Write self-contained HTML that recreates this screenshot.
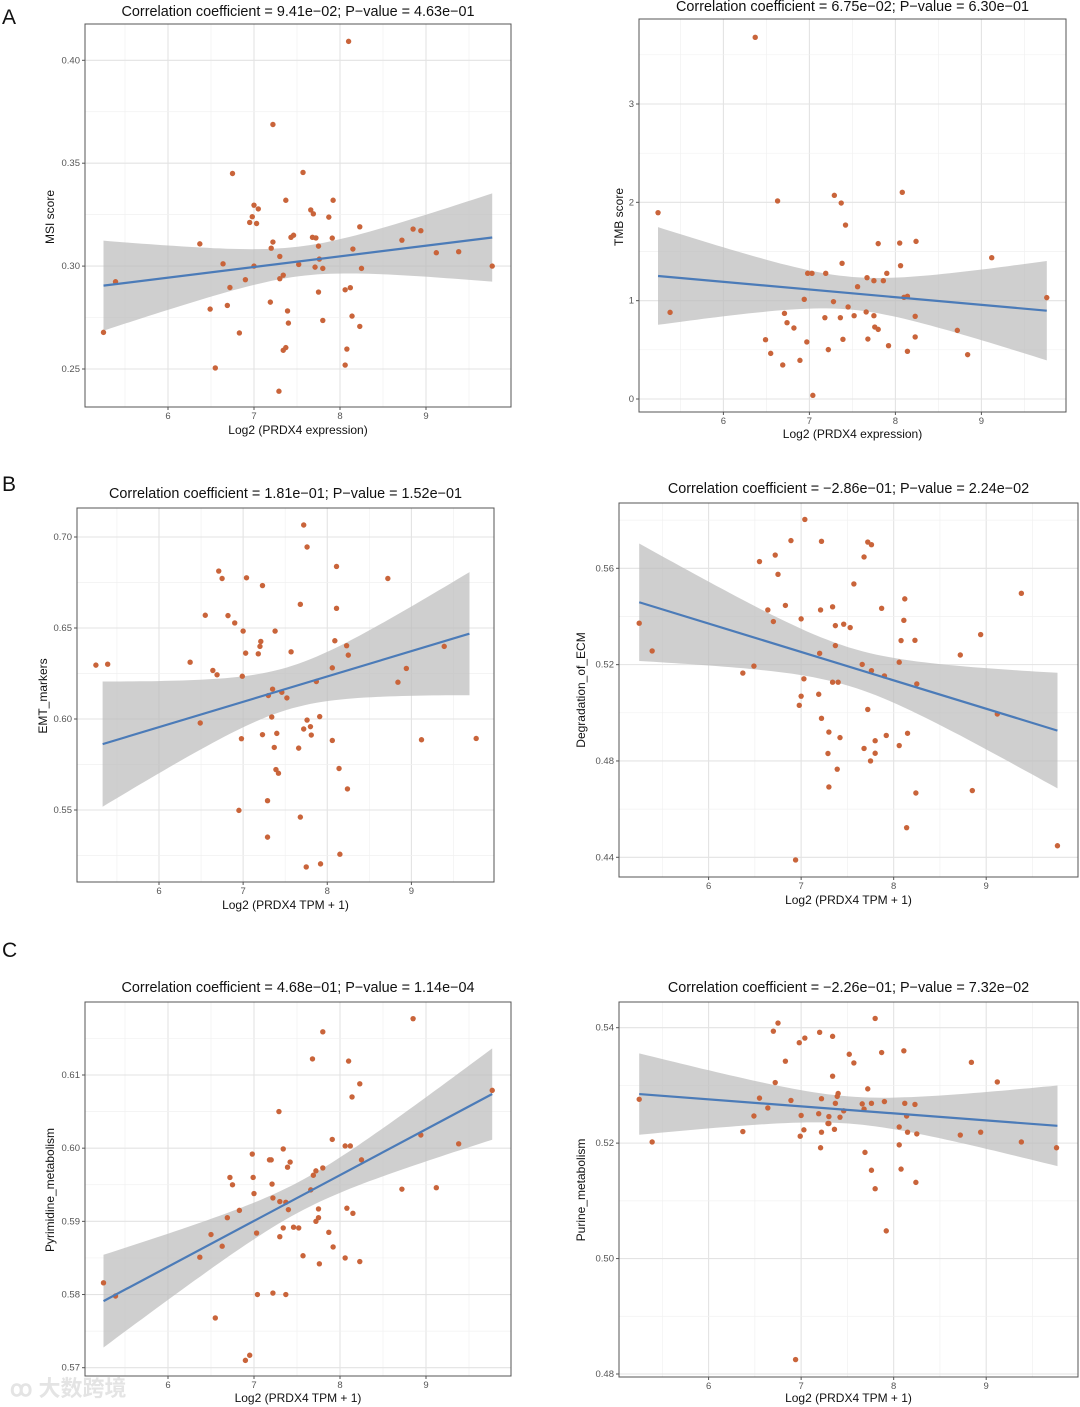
<!DOCTYPE html>
<html><head><meta charset="utf-8"><style>
html,body{margin:0;padding:0;background:#fff;}
svg{display:block;font-family:"Liberation Sans",Arial,sans-serif;}
</style></head><body>
<svg id="fig" width="1080" height="1407" viewBox="0 0 1080 1407" xmlns="http://www.w3.org/2000/svg">
<text x="2" y="24" font-size="21" fill="#111">A</text>
<text x="2" y="491" font-size="21" fill="#111">B</text>
<text x="2" y="957" font-size="21" fill="#111">C</text>
<text x="10" y="1396" font-size="22" fill="#e4e4e4" font-family="'Liberation Sans','Noto Sans CJK SC',sans-serif" font-weight="bold">ꝏ 大数跨境</text>
</svg>
<script>
// ---- Panel A-left: MSI score ----
const aLx = [5.25,5.39,6.37,6.49,6.55,6.64,6.69,6.72,6.75,6.83,6.90,6.95,6.98,7.0,7.0,7.03,7.05,7.19,7.20,7.22,7.22,7.29,7.30,7.30,7.34,7.34,7.37,7.37,7.39,7.40,7.43,7.46,7.52,7.57,7.66,7.68,7.69,7.72,7.71,7.75,7.76,7.75,7.80,7.80,7.87,7.91,7.92,8.06,8.06,8.08,8.10,8.12,8.14,8.15,8.23,8.23,8.25,8.72,8.85,8.94,9.12,9.38,9.77];
const aLy = [0.2678,0.2924,0.3108,0.2791,0.2505,0.3011,0.2809,0.2896,0.345,0.2675,0.2934,0.3212,0.324,0.3296,0.300,0.3207,0.3278,0.2825,0.3087,0.3688,0.3117,0.2392,0.3047,0.2939,0.2591,0.2956,0.2604,0.332,0.2782,0.2723,0.314,0.315,0.3008,0.3455,0.3273,0.314,0.3254,0.3137,0.2995,0.3097,0.3034,0.2874,0.2989,0.2736,0.3238,0.3136,0.332,0.2885,0.2519,0.2597,0.4092,0.2895,0.2757,0.3083,0.3191,0.2707,0.2989,0.3126,0.318,0.3172,0.3065,0.307,0.300];
const aLfitX = [5.25,9.77];
const aLfitY = [0.2905,0.3139];
const aLyTicks = [0.25,0.30,0.35,0.40];
const aLyLabels = ["0.25","0.30","0.35","0.40"];
// ---- Panel A-right: TMB score ----
const aRx = [5.24,5.38,6.37,6.49,6.55,6.63,6.69,6.71,6.74,6.82,6.89,6.94,6.97,6.98,7.03,7.04,7.18,7.19,7.22,7.28,7.29,7.36,7.37,7.38,7.39,7.42,7.45,7.52,7.56,7.66,7.67,7.68,7.75,7.75,7.76,7.80,7.80,7.86,7.90,7.92,8.05,8.06,8.08,8.10,8.14,8.14,8.23,8.23,8.24,8.72,8.84,9.12,9.76];
const aRy = [1.895,0.881,3.678,0.603,0.464,2.014,0.346,0.871,0.776,0.722,0.393,1.014,0.580,1.278,1.278,0.037,0.827,1.278,0.502,0.990,2.071,0.827,1.993,1.380,0.607,1.769,0.936,0.847,1.142,0.885,1.234,0.610,1.203,0.847,0.732,1.580,0.708,1.203,1.278,0.542,1.586,1.356,2.102,1.034,1.044,0.485,0.841,0.631,1.603,0.698,0.451,1.437,1.031];
const aRfitX = [5.24,9.76];
const aRfitY = [1.251,0.898];
const aRyTicks = [0,1,2,3];
const aRyLabels = ["0","1","2","3"];
// ---- Panel B-left: EMT markers ----
const bLx = [5.25,5.39,6.37,6.49,6.55,6.64,6.69,6.71,6.75,6.82,6.90,6.98,6.99,7.0,6.95,7.03,7.04,7.18,7.20,7.21,7.23,7.23,7.29,7.29,7.30,7.34,7.35,7.37,7.38,7.39,7.40,7.42,7.46,7.52,7.57,7.66,7.68,7.68,7.72,7.72,7.76,7.76,7.75,7.80,7.81,7.87,7.91,7.92,8.06,8.06,8.09,8.11,8.11,8.14,8.15,8.23,8.25,8.24,8.72,8.84,8.94,9.12,9.39,9.77];
const bLy = [0.6296,0.6301,0.6312,0.5978,0.6570,0.6267,0.6243,0.6813,0.6772,0.6568,0.6528,0.5892,0.6235,0.6483,0.5498,0.6362,0.6776,0.6358,0.6399,0.6426,0.6733,0.5914,0.5551,0.5351,0.6129,0.6011,0.6164,0.5844,0.6483,0.5722,0.5921,0.5702,0.6147,0.6116,0.6369,0.5840,0.6630,0.5461,0.7066,0.5945,0.6945,0.5994,0.5187,0.5958,0.5912,0.6206,0.6013,0.5204,0.5882,0.6281,0.6430,0.6608,0.6838,0.5728,0.5257,0.6403,0.6351,0.5616,0.6772,0.6202,0.6278,0.5886,0.6399,0.5893];
const bLfitX = [5.33,9.69];
const bLfitY = [0.5862,0.6469];
const bLyTicks = [0.55,0.60,0.65,0.70];
const bLyLabels = ["0.55","0.60","0.65","0.70"];
// ---- Panel B-right: Degradation of ECM ----
const bRx = [5.25,5.39,6.37,6.49,6.55,6.64,6.70,6.72,6.75,6.83,6.89,6.94,6.98,7.0,7.0,7.03,7.04,7.19,7.20,7.21,7.22,7.22,7.30,7.29,7.30,7.34,7.34,7.37,7.37,7.39,7.40,7.42,7.46,7.53,7.57,7.66,7.68,7.68,7.72,7.72,7.76,7.76,7.75,7.80,7.80,7.87,7.90,7.92,8.06,8.06,8.08,8.11,8.12,8.14,8.15,8.23,8.24,8.25,8.72,8.85,8.94,9.12,9.38,9.77];
const bRy = [0.5372,0.5257,0.5165,0.5194,0.5628,0.5427,0.5379,0.5655,0.5575,0.5446,0.5715,0.4389,0.5031,0.5069,0.5390,0.5141,0.5803,0.5077,0.5247,0.5427,0.5712,0.4977,0.4920,0.4831,0.4692,0.5127,0.5440,0.5279,0.5362,0.4766,0.5127,0.4897,0.5368,0.5354,0.5535,0.5201,0.5647,0.4852,0.5014,0.5709,0.5698,0.5175,0.4800,0.4884,0.4832,0.5434,0.5153,0.4906,0.5210,0.4864,0.5300,0.5384,0.5473,0.4523,0.4915,0.5301,0.4667,0.5120,0.5240,0.4677,0.5325,0.4995,0.5496,0.4448];
const bRfitX = [5.25,9.77];
const bRfitY = [0.5459,0.4926];
const bRyTicks = [0.44,0.48,0.52,0.56];
const bRyLabels = ["0.44","0.48","0.52","0.56"];
// ---- Panel C-left: Pyrimidine metabolism ----
const cLx = [5.25,5.39,6.37,6.50,6.55,6.63,6.69,6.72,6.75,6.83,6.90,6.95,6.98,6.99,7.0,7.03,7.04,7.18,7.20,7.21,7.22,7.22,7.29,7.30,7.30,7.34,7.34,7.37,7.37,7.39,7.40,7.42,7.46,7.52,7.57,7.66,7.68,7.69,7.72,7.72,7.75,7.75,7.76,7.80,7.80,7.87,7.91,7.92,8.06,8.06,8.08,8.10,8.12,8.14,8.15,8.23,8.23,8.25,8.72,8.85,8.94,9.12,9.38,9.77];
const cLy = [0.5816,0.5798,0.5851,0.5882,0.5768,0.5866,0.5905,0.5960,0.5950,0.5915,0.5710,0.5717,0.5992,0.5960,0.5938,0.5884,0.5800,0.5984,0.5984,0.5951,0.5802,0.5932,0.6050,0.5927,0.5879,0.5999,0.5891,0.5926,0.5800,0.5974,0.5916,0.5981,0.5892,0.5891,0.5853,0.5943,0.6122,0.5963,0.5969,0.5900,0.5917,0.5905,0.5842,0.6159,0.5973,0.5885,0.6012,0.5865,0.6003,0.5850,0.5918,0.6119,0.6003,0.6070,0.5911,0.6088,0.5845,0.5984,0.5944,0.6177,0.6018,0.5946,0.6006,0.6079];
const cLfitX = [5.25,9.77];
const cLfitY = [0.5791,0.6074];
const cLyTicks = [0.57,0.58,0.59,0.60,0.61];
const cLyLabels = ["0.57","0.58","0.59","0.60","0.61"];
// ---- Panel C-right: Purine metabolism ----
const cRx = [5.25,5.39,6.37,6.49,6.55,6.64,6.70,6.72,6.75,6.83,6.89,6.94,6.98,6.99,7.0,7.03,7.04,7.19,7.20,7.21,7.22,7.22,7.29,7.30,7.30,7.34,7.34,7.36,7.37,7.39,7.40,7.42,7.46,7.52,7.57,7.66,7.68,7.69,7.72,7.76,7.76,7.80,7.80,7.87,7.90,7.92,8.06,8.06,8.08,8.11,8.12,8.14,8.15,8.23,8.24,8.25,8.72,8.84,8.94,9.12,9.38,9.76];
const cRy = [0.5276,0.5202,0.5220,0.5247,0.5278,0.5261,0.5394,0.5305,0.5408,0.5342,0.5274,0.4825,0.5374,0.5212,0.5248,0.5223,0.5382,0.5251,0.5392,0.5192,0.5277,0.5219,0.5234,0.5246,0.5234,0.5316,0.5385,0.5224,0.5269,0.5281,0.5286,0.5245,0.5256,0.5354,0.5339,0.5268,0.5259,0.5184,0.5294,0.5269,0.5153,0.5416,0.5121,0.5357,0.5272,0.5048,0.5228,0.5197,0.5155,0.5360,0.5269,0.5247,0.5219,0.5267,0.5132,0.5216,0.5214,0.5340,0.5219,0.5306,0.5202,0.5192];
const cRfitX = [5.25,9.77];
const cRfitY = [0.5285,0.5230];
const cRyTicks = [0.48,0.50,0.52,0.54];
const cRyLabels = ["0.48","0.50","0.52","0.54"];
// shared x ticks
const xTicks = [6,7,8,9];
const xTickLabels = ["6","7","8","9"];

const NS = "http://www.w3.org/2000/svg";
const svg = document.getElementById('fig');
function mk(tag, attrs, parent){
  const e = document.createElementNS(NS, tag);
  for (const k in attrs) e.setAttribute(k, attrs[k]);
  (parent||svg).appendChild(e);
  return e;
}

const panels = [
 {id:'a-left', xs:aLx, ys:aLy, fx:aLfitX, fy:aLfitY, yt:aLyTicks, yl:aLyLabels, box:[85,24,511,407], xA:[6,168,9,426], yA:[0.25,369,0.40,60.3], minorY:0.025,
  title:"Correlation coefficient = 9.41e\u221202; P\u2212value = 4.63e\u221201", titleY:16, xlab:"Log2 (PRDX4 expression)", xlabY:434, ylab:"MSI score", ylabX:54, ylabY:217},
 {id:'a-right', xs:aRx, ys:aRy, fx:aRfitX, fy:aRfitY, yt:aRyTicks, yl:aRyLabels, box:[639,19,1066,412], xA:[6,723.4,9,981.4], yA:[0,399,3,104], minorY:0.5,
  title:"Correlation coefficient = 6.75e\u221202; P\u2212value = 6.30e\u221201", titleY:11, xlab:"Log2 (PRDX4 expression)", xlabY:438, ylab:"TMB score", ylabX:623, ylabY:217},
 {id:'b-left', xs:bLx, ys:bLy, fx:bLfitX, fy:bLfitY, yt:bLyTicks, yl:bLyLabels, box:[77,508,494,882], xA:[6,159,9,411.4], yA:[0.55,810,0.70,537], minorY:0.025,
  title:"Correlation coefficient = 1.81e\u221201; P\u2212value = 1.52e\u221201", titleY:498, xlab:"Log2 (PRDX4 TPM + 1)", xlabY:909, ylab:"EMT_markers", ylabX:47, ylabY:696},
 {id:'b-right', xs:bRx, ys:bRy, fx:bRfitX, fy:bRfitY, yt:bRyTicks, yl:bRyLabels, box:[619,503,1078,877], xA:[6,708.6,9,986.2], yA:[0.44,857.3,0.56,568.3], minorY:0.02,
  title:"Correlation coefficient = \u22122.86e\u221201; P\u2212value = 2.24e\u221202", titleY:493, xlab:"Log2 (PRDX4 TPM + 1)", xlabY:904, ylab:"Degradation_of_ECM", ylabX:585, ylabY:690},
 {id:'c-left', xs:cLx, ys:cLy, fx:cLfitX, fy:cLfitY, yt:cLyTicks, yl:cLyLabels, box:[85,1002,511,1376], xA:[6,168,9,426], yA:[0.57,1367.7,0.61,1075], minorY:0.005,
  title:"Correlation coefficient = 4.68e\u221201; P\u2212value = 1.14e\u221204", titleY:992, xlab:"Log2 (PRDX4 TPM + 1)", xlabY:1402, ylab:"Pyrimidine_metabolism", ylabX:54, ylabY:1190},
 {id:'c-right', xs:cRx, ys:cRy, fx:cRfitX, fy:cRfitY, yt:cRyTicks, yl:cRyLabels, box:[619,1002,1078,1377], xA:[6,708.6,9,986.2], yA:[0.48,1374,0.54,1027.7], minorY:0.01,
  title:"Correlation coefficient = \u22122.26e\u221201; P\u2212value = 7.32e\u221202", titleY:992, xlab:"Log2 (PRDX4 TPM + 1)", xlabY:1402, ylab:"Purine_metabolism", ylabX:585, ylabY:1190}
];

panels.forEach(p => {
  const [L,T,R,B] = p.box;
  const sx = v => p.xA[1] + (v - p.xA[0]) * (p.xA[3]-p.xA[1])/(p.xA[2]-p.xA[0]);
  const sy = v => p.yA[1] + (v - p.yA[0]) * (p.yA[3]-p.yA[1])/(p.yA[2]-p.yA[0]);
  const g = mk('g', {});
  
  
  mk('rect', {x:L, y:T, width:R-L, height:B-T, fill:'#fff'}, g);
  const inv = v => p.xA[0] + (v - p.xA[1]) * (p.xA[2]-p.xA[0])/(p.xA[3]-p.xA[1]);
  const xmin = inv(L), xmax = inv(R);
  for (let v = Math.ceil(xmin*2)/2; v <= xmax; v += 0.5) {
    const major = Math.abs(v - Math.round(v)) < 1e-6;
    const gl = mk('line', {x1:sx(v), x2:sx(v), y1:T, y2:B, stroke: major ? '#e3e3e3' : '#f1f1f1', 'stroke-width': major ? 1.1 : 0.7}, g);
    
    
  }
  const yInv = py => p.yA[0] + (py - p.yA[1]) * (p.yA[2]-p.yA[0])/(p.yA[3]-p.yA[1]);
  const ylo = Math.min(yInv(B), yInv(T)), yhi = Math.max(yInv(B), yInv(T));
  const step = p.minorY;
  for (let k = Math.ceil(ylo/step - 1e-9); k*step <= yhi; k++) {
    const v = k*step;
    const isMaj = (k % 2 === 0);
    const gl = mk('line', {x1:L, x2:R, y1:sy(v), y2:sy(v), stroke: isMaj ? '#e3e3e3' : '#f1f1f1', 'stroke-width': isMaj ? 1.1 : 0.7}, g);
    
    
  }
  // fitted line and CI band from residuals
  const n = p.xs.length;
  const b1 = (p.fy[1]-p.fy[0])/(p.fx[1]-p.fx[0]);
  const b0 = p.fy[0] - b1*p.fx[0];
  const xm = p.xs.reduce((a,b)=>a+b,0)/n;
  let sxx=0, sse=0;
  for (let i=0;i<n;i++){ sxx += (p.xs[i]-xm)**2; sse += (p.ys[i] - b0 - b1*p.xs[i])**2; }
  const s = Math.sqrt(sse/(n-2));
  const x0 = p.fx[0], x1 = p.fx[1];
  const up = [], lo = [];
  for (let i=0;i<=60;i++){
    const xv = x0 + (x1-x0)*i/60;
    const h = 2.0 * s * Math.sqrt(1/n + (xv-xm)**2/sxx);
    const f = b0 + b1*xv;
    up.push(sx(xv).toFixed(1)+','+sy(f+h).toFixed(1));
    lo.unshift(sx(xv).toFixed(1)+','+sy(f-h).toFixed(1));
  }
  const band = mk('polygon', {points: up.concat(lo).join(' '), fill:'#bdbdbd', 'fill-opacity':0.72}, g);
  
  
  for (let i=0;i<n;i++){
    const c = mk('circle', {cx:sx(p.xs[i]), cy:sy(p.ys[i]), r:2.7, fill:'#c9643a'}, g);
    
    
  }
  const ln = mk('line', {x1:sx(x0), y1:sy(p.fy[0]), x2:sx(x1), y2:sy(p.fy[1]), stroke:'#4b7bb8', 'stroke-width':2.2}, g);
  
  
  mk('rect', {x:L, y:T, width:R-L, height:B-T, fill:'none', stroke:'#555', 'stroke-width':1}, g);
  xTicks.forEach((v,i) => {
    if (sx(v) < L || sx(v) > R) return;
    mk('line', {x1:sx(v), x2:sx(v), y1:B, y2:B+3, stroke:'#555'}, g);
    const t = mk('text', {x:sx(v), y:B+12, 'font-size':9.5, fill:'#555', 'text-anchor':'middle'}, g);
    t.textContent = xTickLabels[i];
    
    
  });
  p.yt.forEach((v,i) => {
    mk('line', {x1:L-3, x2:L, y1:sy(v), y2:sy(v), stroke:'#555'}, g);
    const t = mk('text', {x:L-5, y:sy(v)+3, 'font-size':9.5, fill:'#555', 'text-anchor':'end'}, g);
    t.textContent = p.yl[i];
    
    
  });
  const tt = mk('text', {x:(L+R)/2, y:p.titleY, 'font-size':14.4, fill:'#111', 'text-anchor':'middle'}, g);
  tt.textContent = p.title;
  
  
  const xl = mk('text', {x:(L+R)/2, y:p.xlabY, 'font-size':12, fill:'#111', 'text-anchor':'middle'}, g);
  xl.textContent = p.xlab;
  
  
  const yl = mk('text', {x:p.ylabX, y:p.ylabY, 'font-size':12, fill:'#111', 'text-anchor':'middle', transform:'rotate(-90 '+p.ylabX+' '+p.ylabY+')'}, g);
  yl.textContent = p.ylab;
  
  
});
</script>
</body></html>
